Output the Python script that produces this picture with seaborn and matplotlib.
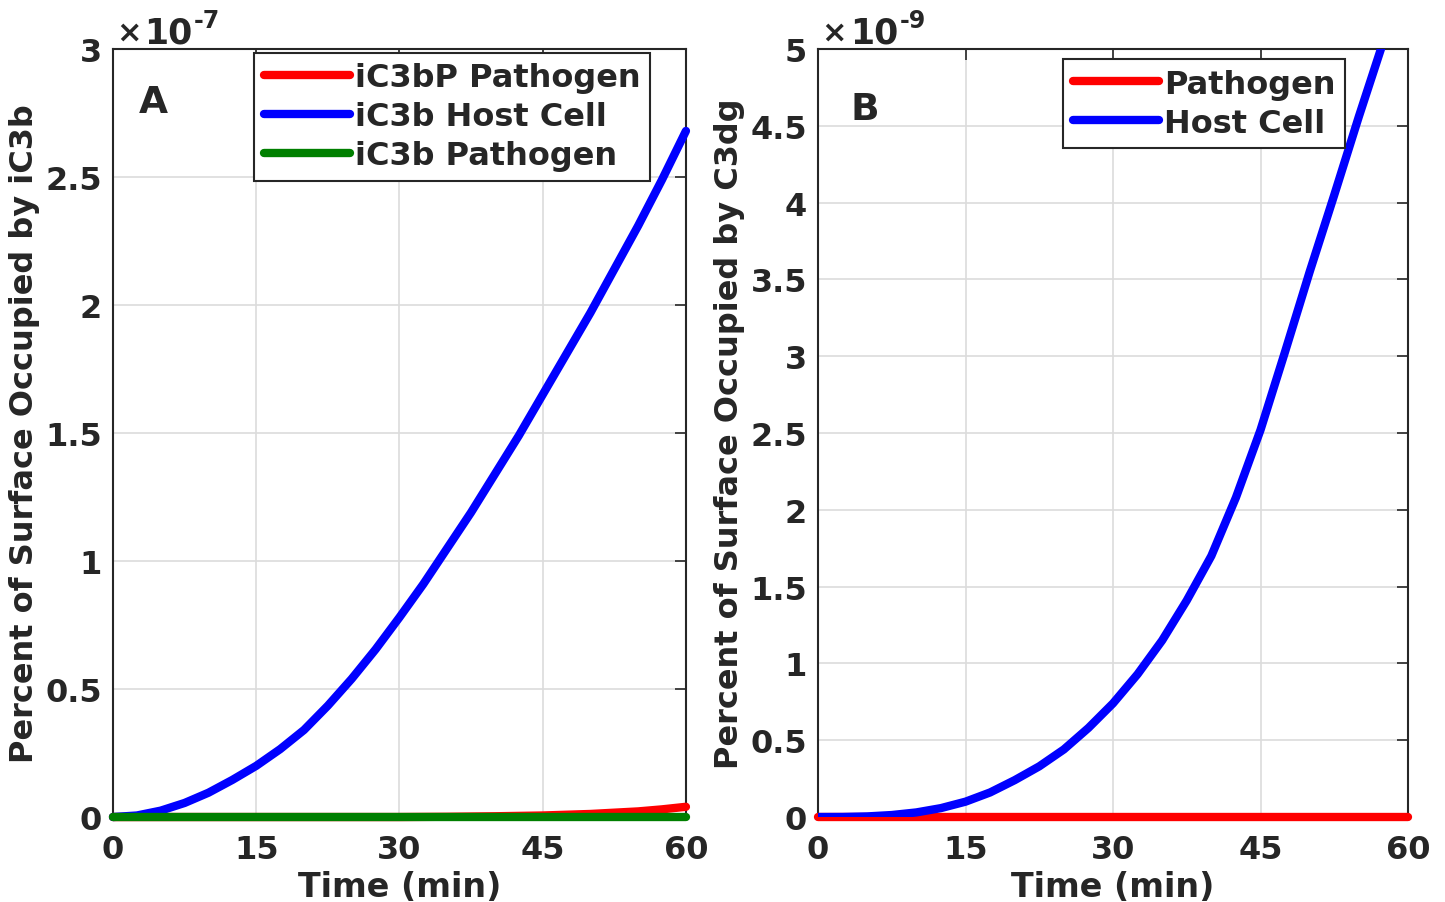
import numpy as np
import pandas as pd
import matplotlib
matplotlib.use("Agg")
import matplotlib.pyplot as plt
import seaborn as sns
from matplotlib.ticker import FuncFormatter

# tempo (min)
tempo = [0, 2.5, 5, 7.5, 10, 12.5, 15, 17.5, 20, 22.5, 25, 27.5, 30,
         32.5, 35, 37.5, 40, 42.5, 45, 47.5, 50, 52.5, 55, 57.5, 60]

# painel A, valores em unidades de 1e-7
ic3bp_patogeno = [0, 0, 0, 0, 0, 0, 0, 0, 0, 0, 0, 0, 0,
                  0.0005, 0.001, 0.002, 0.003, 0.0045, 0.006, 0.009, 0.012,
                  0.017, 0.022, 0.03, 0.04]
ic3b_hospedeiro = [0, 0.006, 0.025, 0.055, 0.095, 0.145, 0.2, 0.265, 0.34,
                   0.435, 0.54, 0.655, 0.78, 0.91, 1.05, 1.19, 1.34, 1.49,
                   1.65, 1.81, 1.97, 2.14, 2.31, 2.49, 2.68]
ic3b_patogeno = [0] * 25

# painel B, valores em unidades de 1e-9
c3dg_patogeno = [0] * 25
c3dg_hospedeiro = [0, 0.0005, 0.004, 0.013, 0.03, 0.058, 0.1, 0.16, 0.24,
                   0.33, 0.44, 0.58, 0.74, 0.93, 1.15, 1.41, 1.7, 2.08,
                   2.52, 3.03, 3.55, 4.05, 4.56, 5.05, 5.55]

escala_a = 1e-7
escala_b = 1e-9
xticks = [0, 15, 30, 45, 60]
yticks_a = [0, 0.5, 1, 1.5, 2, 2.5, 3]
yticks_b = [0, 0.5, 1, 1.5, 2, 2.5, 3, 3.5, 4, 4.5, 5]

sns.set_style("white")
plt.rcParams["font.family"] = ["DejaVu Sans"]
plt.rcParams["font.weight"] = "bold"

LW = 6
FS_TICK = 23
FS_LABEL = 23
FS_LEG = 23
COR_TXT = "#262626"

fig = plt.figure(figsize=(14.45, 9.03), dpi=100)
ax_a = fig.add_axes([0.0782, 0.0941, 0.3965, 0.8505])
ax_b = fig.add_axes([0.5661, 0.0941, 0.4083, 0.8505])


def estilo_matlab(ax, yticks, escala, expoente, ylabel):
    ax.set_xlim(0, 60)
    ax.set_ylim(0, yticks[-1] * escala)
    ax.set_xticks(xticks)
    ax.set_yticks([v * escala for v in yticks])
    ax.yaxis.set_major_formatter(FuncFormatter(lambda v, p: f"{v / escala:g}"))
    ax.tick_params(direction="in", length=8, width=1.2, top=True, right=True,
                   labelsize=FS_TICK, colors=COR_TXT)
    ax.tick_params(axis="x", pad=12)
    ax.tick_params(axis="y", pad=8)
    for lab in ax.get_xticklabels() + ax.get_yticklabels():
        lab.set_fontweight("bold")
    ax.grid(True, color="#dcdcdc", linewidth=1.2)
    ax.set_axisbelow(True)
    for sp in ax.spines.values():
        sp.set_visible(True)
        sp.set_color(COR_TXT)
        sp.set_linewidth(1.5)
    ax.set_xlabel("Time (min)", fontsize=FS_LABEL + 1, fontweight="bold",
                  color=COR_TXT, labelpad=4)
    ax.set_ylabel(ylabel, fontsize=FS_LABEL, fontweight="bold", color=COR_TXT,
                  labelpad=4)
    # multiplicador no estilo MATLAB
    ax.text(0.005, 1.003, r"$\times$", transform=ax.transAxes, fontsize=22,
            color=COR_TXT, ha="left", va="bottom", fontweight="normal")
    dez = ax.text(0.055, 1.0, "10", transform=ax.transAxes, fontsize=25,
                  color=COR_TXT, ha="left", va="bottom", fontweight="bold")
    ax.annotate(expoente, xy=(1, 0.5), xycoords=dez, xytext=(1, 0),
                textcoords="offset points", fontsize=17, color=COR_TXT,
                ha="left", va="bottom", fontweight="bold")


def legenda(ax, ancora):
    leg = ax.legend(loc="upper right", bbox_to_anchor=ancora, borderaxespad=0,
                    prop={"weight": "bold", "size": FS_LEG}, handlelength=2.7,
                    handletextpad=0.15, labelspacing=0.25, borderpad=0.3,
                    fancybox=False, framealpha=1, edgecolor=COR_TXT)
    leg.get_frame().set_linewidth(1.5)
    for linha in leg.get_lines():
        linha.set_linewidth(LW)


# painel A
df_a = pd.DataFrame({
    "t": tempo,
    "iC3bP Pathogen": np.array(ic3bp_patogeno) * escala_a,
    "iC3b Host Cell": np.array(ic3b_hospedeiro) * escala_a,
    "iC3b Pathogen": np.array(ic3b_patogeno) * escala_a,
})
for nome, cor in [("iC3bP Pathogen", "#ff0000"), ("iC3b Host Cell", "#0000ff"),
                  ("iC3b Pathogen", "#007f00")]:
    sns.lineplot(data=df_a, x="t", y=nome, ax=ax_a, color=cor, linewidth=LW,
                 label=nome, clip_on=False, zorder=3)
estilo_matlab(ax_a, yticks_a, escala_a, "-7", "Percent of Surface Occupied by iC3b")
legenda(ax_a, (0.937, 0.995))
ax_a.text(0.045, 0.955, "A", transform=ax_a.transAxes, fontsize=27,
          fontweight="bold", va="top", ha="left")

# painel B
df_b = pd.DataFrame({
    "t": tempo,
    "Pathogen": np.array(c3dg_patogeno) * escala_b,
    "Host Cell": np.array(c3dg_hospedeiro) * escala_b,
})
sns.lineplot(data=df_b, x="t", y="Pathogen", ax=ax_b, color="#ff0000",
             linewidth=LW, label="Pathogen", clip_on=False, zorder=3)
sns.lineplot(data=df_b, x="t", y="Host Cell", ax=ax_b, color="#0000ff",
             linewidth=LW, label="Host Cell", zorder=3)
estilo_matlab(ax_b, yticks_b, escala_b, "-9", "Percent of Surface Occupied by C3dg")
legenda(ax_b, (0.893, 0.987))
ax_b.text(0.055, 0.945, "B", transform=ax_b.transAxes, fontsize=27,
          fontweight="bold", va="top", ha="left")

fig.savefig("out.png", dpi=100)
